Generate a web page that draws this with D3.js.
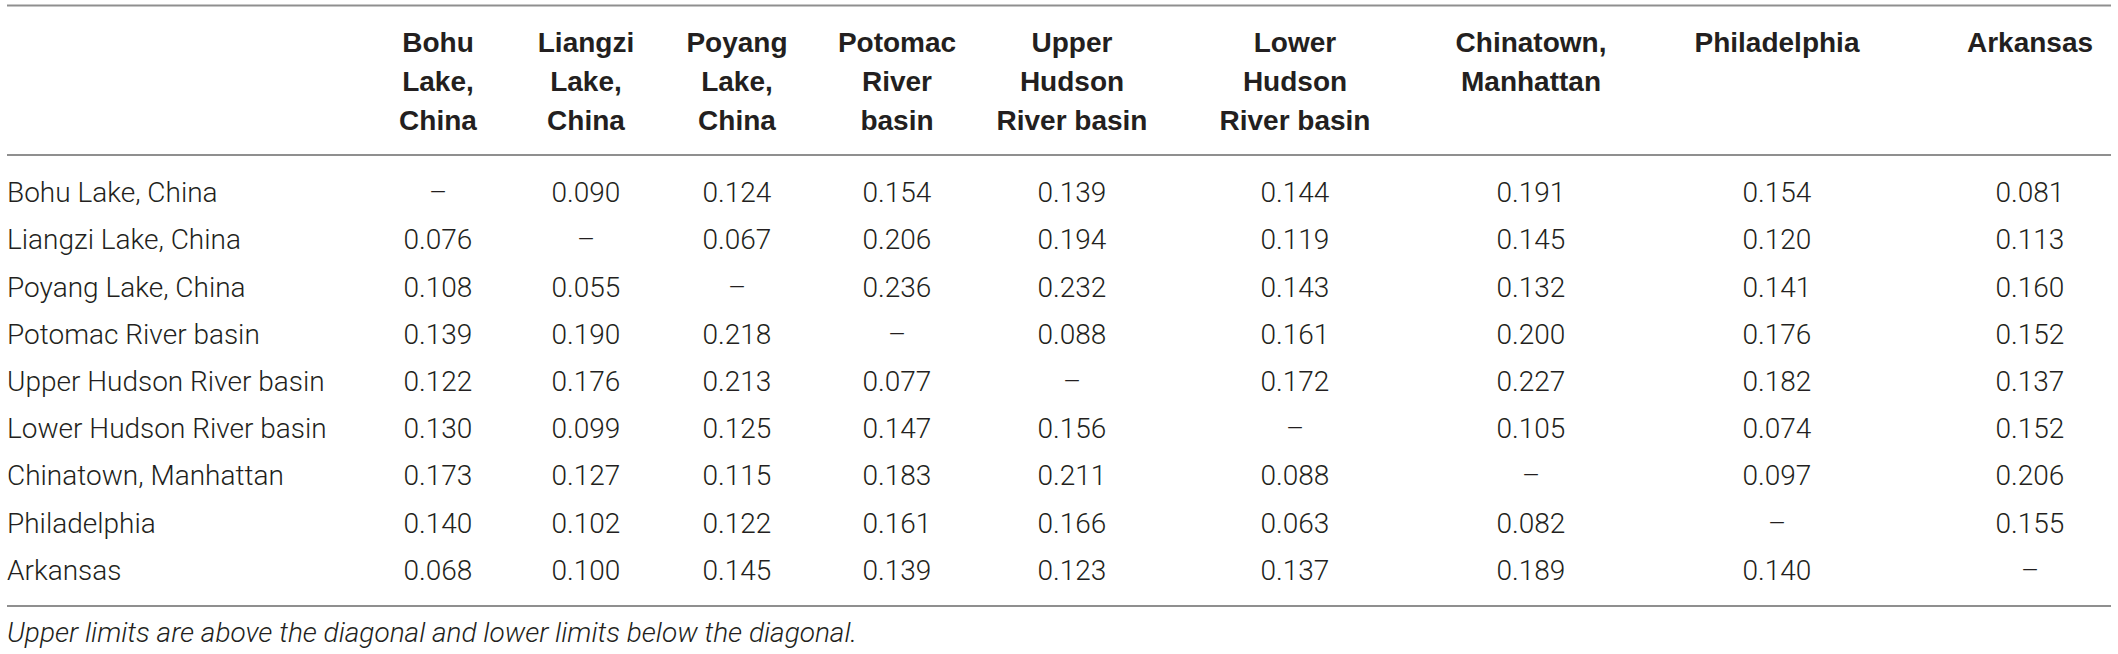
<!DOCTYPE html>
<html>
<head>
<meta charset="utf-8">
<script src="https://cdn.jsdelivr.net/npm/d3@7"></script>
<style>
  body { margin: 0; background: #fff; }
  svg { display: block; }
</style>
</head>
<body>
<div id="table"></div>
<script>
// sites, in row / column order
var sites = ["Bohu Lake, China", "Liangzi Lake, China", "Poyang Lake, China",
             "Potomac River basin", "Upper Hudson River basin", "Lower Hudson River basin",
             "Chinatown, Manhattan", "Philadelphia", "Arkansas"];

// column headers as they wrap in the table
var headerLines = [["Bohu", "Lake,", "China"], ["Liangzi", "Lake,", "China"], ["Poyang", "Lake,", "China"],
                   ["Potomac", "River", "basin"], ["Upper", "Hudson", "River basin"], ["Lower", "Hudson", "River basin"],
                   ["Chinatown,", "Manhattan"], ["Philadelphia"], ["Arkansas"]];

// one array per row, null on the diagonal
var bohu         = [null,  0.090, 0.124, 0.154, 0.139, 0.144, 0.191, 0.154, 0.081];
var liangzi      = [0.076, null,  0.067, 0.206, 0.194, 0.119, 0.145, 0.120, 0.113];
var poyang       = [0.108, 0.055, null,  0.236, 0.232, 0.143, 0.132, 0.141, 0.160];
var potomac      = [0.139, 0.190, 0.218, null,  0.088, 0.161, 0.200, 0.176, 0.152];
var upperHudson  = [0.122, 0.176, 0.213, 0.077, null,  0.172, 0.227, 0.182, 0.137];
var lowerHudson  = [0.130, 0.099, 0.125, 0.147, 0.156, null,  0.105, 0.074, 0.152];
var chinatown    = [0.173, 0.127, 0.115, 0.183, 0.211, 0.088, null,  0.097, 0.206];
var philadelphia = [0.140, 0.102, 0.122, 0.161, 0.166, 0.063, 0.082, null,  0.155];
var arkansas     = [0.068, 0.100, 0.145, 0.139, 0.123, 0.137, 0.189, 0.140, null];

var footnote = "Upper limits are above the diagonal and lower limits below the diagonal.";

var rows = [bohu, liangzi, poyang, potomac, upperHudson, lowerHudson, chinatown, philadelphia, arkansas];

var width = 2118, height = 654,
    left = 7, right = 2111,
    topRule = 5.5, headRule = 155, bottomRule = 606;

var bodyFont = "Roboto, 'Liberation Sans', sans-serif",
    headFont = "'Liberation Sans', Arial, sans-serif",
    ink = "#231f20",
    ruleColor = "#8f8f8f";

var svg = d3.select("#table")
            .append("svg")
            .attr("width", width)
            .attr("height", height);

// column centres
var x = d3.scaleOrdinal()
          .domain(sites)
          .range([438, 586, 737, 897, 1072, 1295, 1531, 1777, 2030]);

// rows
var y = d3.scaleBand()
          .domain(sites)
          .range([168.4, 593.6]);

// rules
svg.selectAll("line.rule")
   .data([topRule, headRule, bottomRule])
   .enter()
   .append("line")
       .attr("class", "rule")
       .attr("x1", left)
       .attr("x2", right)
       .attr("y1", function(d) { return d; })
       .attr("y2", function(d) { return d; })
       .attr("stroke", ruleColor)
       .attr("stroke-width", 2);

// column headers
var head = svg.selectAll("text.head")
   .data(sites)
   .enter()
   .append("text")
       .attr("class", "head")
       .attr("x", function(d) { return x(d); })
       .attr("y", 52)
       .attr("text-anchor", "middle")
       .attr("font-family", headFont)
       .attr("font-weight", "bold")
       .attr("font-size", 28)
       .attr("fill", ink);

head.selectAll("tspan")
    .data(function(d, i) { return headerLines[i]; })
    .enter()
    .append("tspan")
        .attr("x", function() { return x(d3.select(this.parentNode).datum()); })
        .attr("dy", function(d, i) { return i === 0 ? 0 : 39; })
        .text(function(d) { return d; });

// row labels
svg.selectAll("text.rowlabel")
   .data(sites)
   .enter()
   .append("text")
       .attr("class", "rowlabel")
       .attr("x", left)
       .attr("y", function(d) { return y(d) + y.bandwidth() / 2 + 10; })
       .attr("font-family", bodyFont)
       .attr("font-weight", 300)
       .attr("font-size", 28)
       .attr("fill", ink)
       .text(function(d) { return d; });

// cells
var fmt = d3.format(".3f");
var cells = [];
rows.forEach(function(r, i) {
    r.forEach(function(v, j) {
        cells.push({row: sites[i], col: sites[j], value: v});
    });
});

svg.selectAll("text.cell")
   .data(cells)
   .enter()
   .append("text")
       .attr("class", "cell")
       .attr("x", function(d) { return x(d.col); })
       .attr("y", function(d) { return y(d.row) + y.bandwidth() / 2 + 10; })
       .attr("text-anchor", "middle")
       .attr("font-family", bodyFont)
       .attr("font-weight", 300)
       .attr("font-size", 28)
       .attr("fill", ink)
       .text(function(d) { return d.value === null ? "\u2013" : fmt(d.value); });

// footnote
svg.append("text")
   .attr("x", left)
   .attr("y", 642)
   .attr("font-family", bodyFont)
   .attr("font-weight", 300)
   .attr("font-style", "italic")
   .attr("font-size", 28)
   .attr("fill", ink)
   .text(footnote);
</script>
</body>
</html>
